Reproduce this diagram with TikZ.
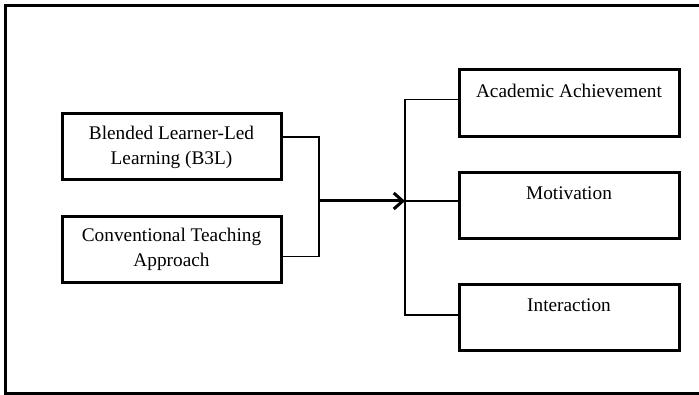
\documentclass[tikz,border=0pt]{standalone}
\usepackage{fontspec}
\setmainfont{Liberation Serif}
\usepackage{tikz}
\usetikzlibrary{
  calc,                  % offsets on anchors
  positioning            % relative placement
}
\usetikzlibrary{arrows.meta}

\tikzset{
  box/.style={draw, line width=3pt, minimum width=219pt, minimum height=66pt,
    align=center, inner sep=0pt, font=\fontsize{19.3}{25}\selectfont},
  link/.style={line width=1.6pt},
}

\begin{document}
\begin{tikzpicture}[x=1pt, y=-1pt]
      \useasboundingbox (0,0) rectangle (699,395);
      % outer frame, runs off the right edge
      \draw[line width=3pt] (699,6) -- (5,6) -- (5,393) -- (699,393);

      % independent variables
      \node[box] (b3l) at (171.5,147) {Blended Learner-Led\\Learning (B3L)};
      \node[box] (conv) at (171.5,249.5) {Conventional Teaching\\Approach};

      % outcomes
      \node[box, minimum width=220pt, minimum height=67pt] (ach) at (569,103.5) {Academic Achievement\\\mbox{}};
      \node[box, minimum width=220pt] (mot) at (569,205.5) {Motivation\\\mbox{}};
      \node[box, minimum width=220pt] (inter) at (569,318) {Interaction\\\mbox{}};

      \coordinate (join) at (319,201);
      \coordinate (split) at (405,201);

      \draw[link] ([yshift=10pt]b3l.east) -| (join) |- ([yshift=-7pt]conv.east);
      \draw[line width=3pt, -{Straight Barb[length=9pt, width=16pt]}] (join) -- (split);
      \draw[link] ([yshift=4pt]ach.west) -| (split) |- ([yshift=3pt]inter.west);
      \draw[link] (split) -- (split -| mot.west);
  \end{tikzpicture}
\end{document}
